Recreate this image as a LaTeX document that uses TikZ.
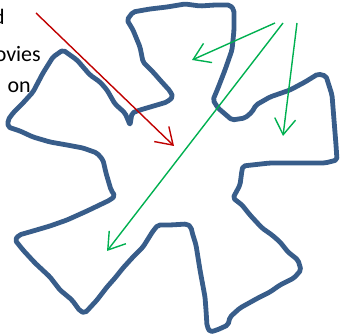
\documentclass[tikz,border=0pt]{standalone}
\usepackage{fontspec}
\setmainfont{Carlito}
\usepackage{xcolor}
\usetikzlibrary{arrows.meta}
\definecolor{outlineblue}{RGB}{56, 93, 138}
\definecolor{arrowred}{RGB}{192, 0, 0}
\definecolor{arrowgreen}{RGB}{0, 176, 80}

\begin{document}
\begin{tikzpicture}[
    x=1pt, y=-1pt,
    label text/.style={anchor=base east, inner sep=0pt, font=\fontsize{22}{26}\selectfont},
    outline/.style={draw=outlineblue, line width=4.8pt, line join=round, rounded corners=2pt},
    barb/.style={-{Straight Barb[length=16pt, width=21pt]}, line width=1.4pt},
    redarrow/.style={barb, draw=arrowred},
    greenarrow/.style={barb, draw=arrowgreen}
]
\useasboundingbox (0,0) rectangle (340,336);

% Text cut off at the left edge
\node[label text] (line1) at (5,25) {d};
\node[label text] (line2) at (41,62) {ovies};
\node[label text] (line3) at (31,93) {on};

% Star shaped outline
\draw[outline]
    (127,20) -- (133,12) -- (150,9) -- (167,7) -- (185,4) -- (200,6) -- (215,5) -- (230,5)
    -- (234,10) -- (234,30) -- (232,50) -- (225,70) -- (218,88) -- (213,100) -- (218,108)
    -- (232,120) -- (245,118) -- (252,112) -- (256,105) -- (270,97) -- (290,90) -- (305,82)
    -- (318,74) -- (326,76) -- (332,95) -- (334,120) -- (336,145) -- (337,160) -- (325,163)
    -- (300,163) -- (270,163) -- (243,166)
    % lower right arm
    -- (242,170) -- (240,185) -- (233,198) -- (242,205) -- (250,215) -- (262,228) -- (272,235)
    -- (280,242) -- (288,252) -- (298,260) -- (301,270) -- (294,278) -- (280,285) -- (270,292)
    -- (258,298) -- (240,308) -- (230,317) -- (228,325) -- (217,330) -- (210,332) -- (207,326)
    -- (206,310) -- (205,297) -- (200,270) -- (196,245) -- (192,232) -- (191,227) -- (187,224)
    -- (170,225)
    % lower left arm
    -- (158,225) -- (153,231) -- (143,247) -- (133,257) -- (123,268) -- (115,278) -- (107,287)
    -- (97,300) -- (85,313) -- (80,311) -- (72,300) -- (60,290) -- (50,277) -- (35,263)
    -- (23,250) -- (15,240) -- (19,235) -- (33,231) -- (50,226) -- (67,220) -- (87,211)
    -- (110,200) -- (115,196) -- (111,190) -- (106,173) -- (103,160)
    % left arm
    -- (97,153) -- (83,148) -- (67,145) -- (50,142) -- (33,137) -- (20,131) -- (8,127)
    -- (8,120) -- (13,113) -- (23,103) -- (33,92) -- (43,73) -- (53,57) -- (63,50)
    -- (77,60) -- (90,75) -- (100,82) -- (107,90) -- (115,104) -- (125,113) -- (128,120)
    -- (130,125) -- (132,113) -- (140,110) -- (157,105) -- (167,102) -- (173,97) -- (170,91)
    -- (160,80) -- (153,72) -- (143,62) -- (140,47) -- (133,30) -- cycle;

% Arrow end points
\coordinate (red_start) at (36,13);
\coordinate (red_end) at (174,146);
\coordinate (green_start1) at (275,23);
\coordinate (green_end1) at (192,60);
\coordinate (green_start2) at (283,23);
\coordinate (green_end2) at (107,251);
\coordinate (green_start3) at (297,23);
\coordinate (green_end3) at (283,136);

% Arrows
\draw[redarrow] (red_start) -- (red_end);
\draw[greenarrow] (green_start1) -- (green_end1);
\draw[greenarrow] (green_start2) -- (green_end2);
\draw[greenarrow] (green_start3) -- (green_end3);

\end{tikzpicture}
\end{document}
